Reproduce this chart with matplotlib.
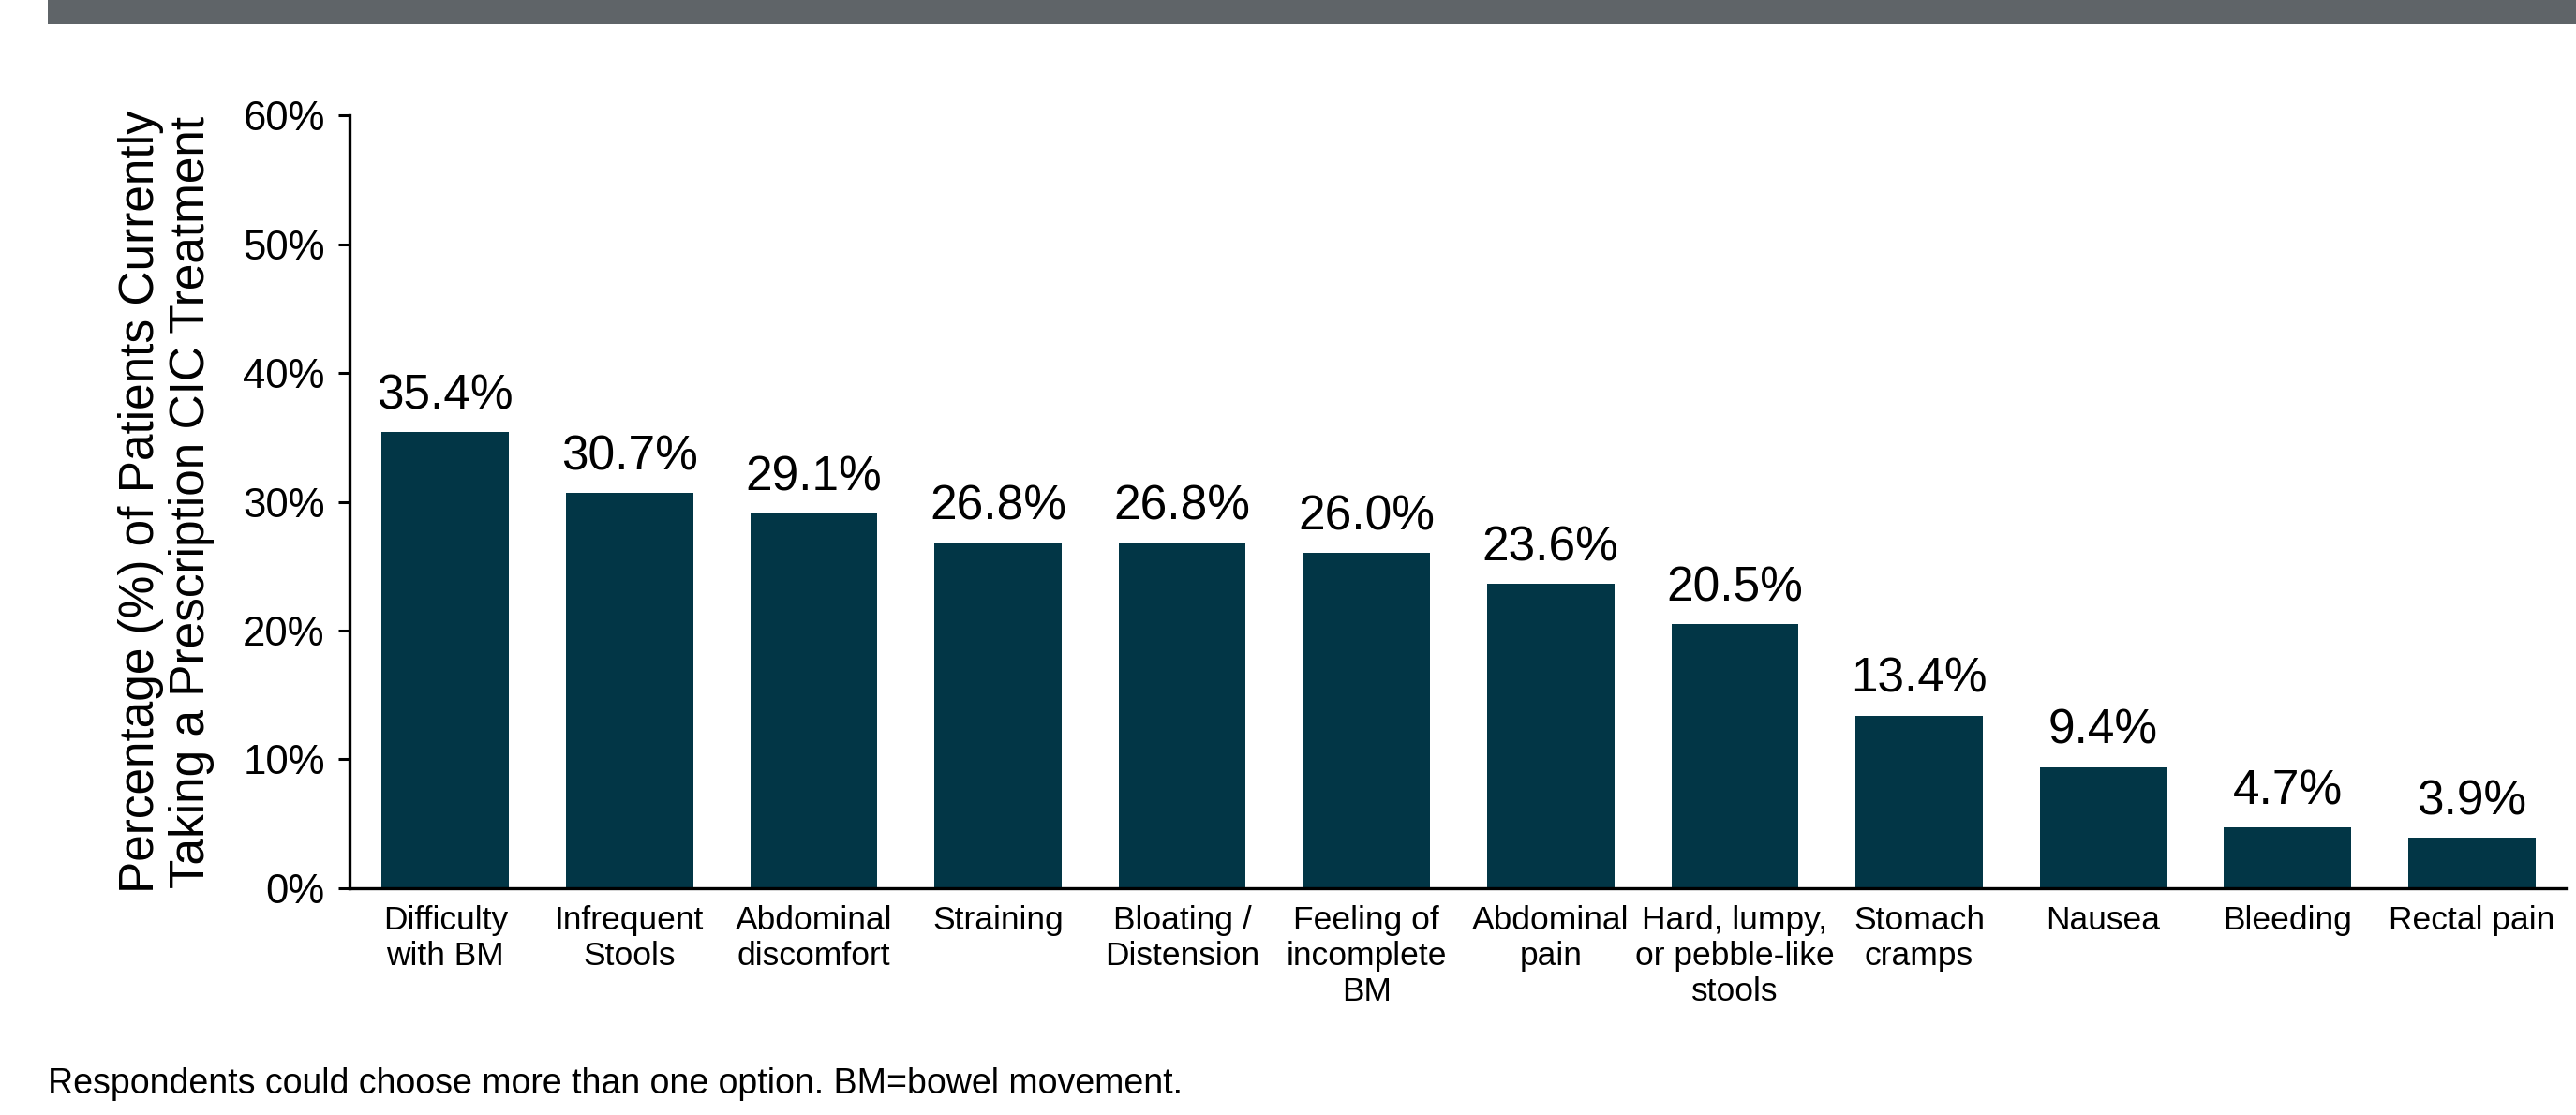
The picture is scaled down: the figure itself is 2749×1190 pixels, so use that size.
import matplotlib
matplotlib.use('Agg')
import matplotlib.pyplot as plt
from matplotlib import patches

plt.rcParams['font.family'] = ['Liberation Sans', 'DejaVu Sans']

# symptoms and share of patients (%)
symptoms = ["Difficulty\nwith BM", "Infrequent\nStools", "Abdominal\ndiscomfort",
            "Straining", "Bloating /\nDistension", "Feeling of\nincomplete\nBM",
            "Abdominal\npain", "Hard, lumpy,\nor pebble-like\nstools", "Stomach\ncramps",
            "Nausea", "Bleeding", "Rectal pain"]
percent = [35.4, 30.7, 29.1, 26.8, 26.8, 26.0, 23.6, 20.5, 13.4, 9.4, 4.7, 3.9]
yticks = [0, 10, 20, 30, 40, 50, 60]

BAR_COLOR = "#023646"

fig = plt.figure(figsize=(27.49, 11.90), dpi=100)

# grey header band at the top
fig.add_artist(patches.Rectangle((51 / 2749, 1 - 26 / 1190), 1, 26 / 1190,
                                 transform=fig.transFigure, color="#5f6468", lw=0))

ax = fig.add_axes([0.1357, 0.2034, 0.996 - 0.1357, 0.8966 - 0.2034])
x = range(len(percent))
ax.bar(x, percent, width=0.69, color=BAR_COLOR)

for xi, v in zip(x, percent):
    ax.text(xi, v + 1.0, f"{v:.1f}%", ha="center", va="bottom", fontsize=37)

ax.set_xlim(-0.52, len(percent) - 0.49)
ax.set_ylim(0, 60)
ax.set_yticks(yticks)
ax.set_yticklabels([f"{t}%" for t in yticks], fontsize=31.5)
ax.set_xticks(list(x))
ax.set_xticklabels(symptoms, fontsize=25.5, linespacing=1.2, va="top")
ax.tick_params(axis="x", length=0, pad=13)
ax.tick_params(axis="y", length=9, width=2.2, pad=10)

for s in ["top", "right"]:
    ax.spines[s].set_visible(False)
for s in ["left", "bottom"]:
    ax.spines[s].set_linewidth(2.4)

ax.set_ylabel("Percentage (%) of Patients Currently\nTaking a Prescription CIC Treatment",
              fontsize=37, linespacing=1.12, labelpad=22)

fig.text(51 / 2749, 1 - 1157 / 1190, "Respondents could choose more than one option. BM=bowel movement.",
         fontsize=27, ha="left", va="center")

fig.savefig("out.png", dpi=100)
